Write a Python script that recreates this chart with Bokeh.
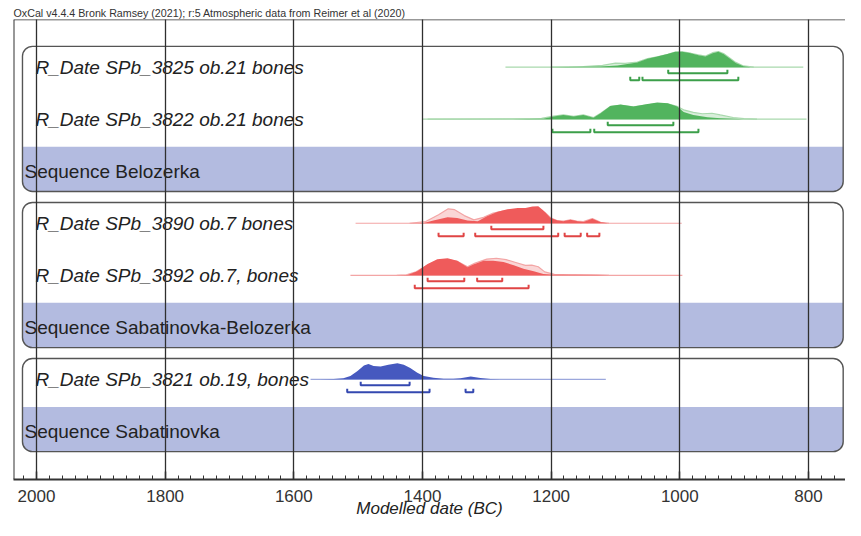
from bokeh.plotting import figure
from bokeh.models import Range1d, FixedTicker, Span
from bokeh.embed import file_html
from bokeh.resources import INLINE
from bokeh.core.properties import value

# ---------------- data ----------------
title_text = "OxCal v4.4.4 Bronk Ramsey (2021); r:5 Atmospheric data from Reimer et al (2020)"
axis_title = "Modelled date (BC)"
tick_years = [2000, 1800, 1600, 1400, 1200, 1000, 800]

sequence_names = ["Sequence Belozerka", "Sequence Sabatinovka-Belozerka", "Sequence Sabatinovka"]
sequence_members = [
    ["R_Date SPb_3825 ob.21 bones", "R_Date SPb_3822 ob.21 bones"],
    ["R_Date SPb_3890 ob.7 bones", "R_Date SPb_3892 ob.7, bones"],
    ["R_Date SPb_3821 ob.19, bones"],
]

# SPb_3825
s3825_span = [1271, 808]
s3825_years = [1200, 1150, 1123, 1097, 1066, 1050, 1035, 1019, 1007, 996, 983, 971, 960, 949, 940, 932, 924, 913, 901, 890]
s3825_post = [0.0, 0.02, 0.04, 0.1, 0.27, 0.5, 0.62, 0.78, 0.9, 0.9, 0.82, 0.7, 0.62, 0.82, 0.9, 0.78, 0.55, 0.24, 0.05, 0.0]
s3825_like_years = [1200, 1150, 1120, 1100, 1085, 1066, 1050, 1035, 1019, 1007, 996, 983, 971, 960, 949, 940, 932, 924, 913, 901, 885]
s3825_like = [0.0, 0.04, 0.1, 0.24, 0.22, 0.3, 0.5, 0.6, 0.75, 0.88, 0.9, 0.82, 0.72, 0.65, 0.85, 0.92, 0.8, 0.58, 0.28, 0.07, 0.0]
s3825_r68 = [[1018, 926]]
s3825_r95 = [[1077, 1063], [1058, 909]]

# SPb_3822
s3822_span = [1392, 803]
s3822_years = [1260, 1212, 1196, 1181, 1165, 1150, 1134, 1123, 1108, 1092, 1072, 1050, 1035, 1019, 1004, 994, 979, 957, 937, 917, 901]
s3822_post = [0.0, 0.02, 0.16, 0.24, 0.16, 0.24, 0.08, 0.35, 0.78, 0.86, 0.75, 0.9, 0.98, 0.94, 0.75, 0.43, 0.24, 0.12, 0.06, 0.02, 0.0]
s3822_like_years = [1400, 1260, 1215, 1196, 1181, 1165, 1150, 1134, 1123, 1108, 1092, 1072, 1050, 1035, 1019, 1004, 994, 979, 965, 950, 937, 917, 900, 880]
s3822_like = [0.0, 0.02, 0.05, 0.18, 0.25, 0.17, 0.25, 0.1, 0.35, 0.75, 0.82, 0.72, 0.85, 0.92, 0.9, 0.75, 0.55, 0.4, 0.32, 0.35, 0.25, 0.1, 0.03, 0.0]
s3822_r68 = [[1112, 1010]]
s3822_r95 = [[1198, 1139], [1133, 971]]

# SPb_3890
s3890_span = [1504, 997]
s3890_years = [1420, 1398, 1383, 1361, 1346, 1330, 1314, 1299, 1283, 1268, 1252, 1240, 1229, 1220, 1212, 1201, 1190, 1181, 1170, 1159, 1150, 1136, 1123, 1112]
s3890_post = [0.0, 0.02, 0.16, 0.35, 0.31, 0.16, 0.12, 0.43, 0.67, 0.82, 0.9, 0.9, 0.98, 1.0, 0.75, 0.31, 0.16, 0.12, 0.2, 0.12, 0.08, 0.27, 0.06, 0.0]
s3890_like_years = [1420, 1395, 1375, 1360, 1350, 1335, 1320, 1305, 1290, 1275, 1255, 1235, 1222, 1210, 1200, 1190, 1181, 1170, 1160, 1150, 1136, 1123, 1110]
s3890_like = [0.0, 0.1, 0.5, 0.85, 0.8, 0.45, 0.2, 0.35, 0.6, 0.72, 0.78, 0.82, 0.85, 0.65, 0.3, 0.15, 0.12, 0.2, 0.12, 0.1, 0.27, 0.06, 0.0]
s3890_r68 = [[1293, 1212]]
s3890_r95 = [[1375, 1336], [1318, 1189], [1179, 1154], [1144, 1125]]

# SPb_3892
s3892_span = [1512, 996]
s3892_years = [1440, 1423, 1408, 1392, 1377, 1361, 1346, 1330, 1321, 1305, 1290, 1274, 1258, 1243, 1227, 1212, 1196, 1165, 1128, 1110]
s3892_post = [0.0, 0.02, 0.24, 0.67, 0.94, 1.0, 0.86, 0.47, 0.63, 0.86, 0.86, 0.78, 0.59, 0.39, 0.24, 0.08, 0.03, 0.03, 0.02, 0.0]
s3892_like_years = [1440, 1425, 1410, 1392, 1377, 1361, 1346, 1330, 1318, 1300, 1285, 1270, 1255, 1240, 1230, 1220, 1210, 1195, 1170, 1130, 1110]
s3892_like = [0.0, 0.02, 0.2, 0.6, 0.85, 0.92, 0.82, 0.5, 0.72, 0.95, 1.0, 0.92, 0.75, 0.58, 0.6, 0.5, 0.2, 0.05, 0.03, 0.02, 0.0]
s3892_r68 = [[1392, 1335], [1315, 1276]]
s3892_r95 = [[1412, 1235]]

# SPb_3821
s3821_span = [1574, 1115]
s3821_years = [1560, 1538, 1523, 1512, 1501, 1491, 1484, 1476, 1465, 1453, 1439, 1429, 1419, 1408, 1398, 1383, 1367, 1352, 1341, 1325, 1310, 1294, 1279]
s3821_post = [0.0, 0.02, 0.06, 0.2, 0.49, 0.82, 0.9, 0.78, 0.75, 0.86, 0.94, 0.86, 0.67, 0.39, 0.2, 0.1, 0.04, 0.03, 0.06, 0.16, 0.08, 0.02, 0.0]
s3821_r68 = [[1496, 1420]]
s3821_r95 = [[1517, 1389], [1333, 1321]]

dates = [
    (s3825_span, s3825_years, s3825_post, s3825_like_years, s3825_like, s3825_r68, s3825_r95),
    (s3822_span, s3822_years, s3822_post, s3822_like_years, s3822_like, s3822_r68, s3822_r95),
    (s3890_span, s3890_years, s3890_post, s3890_like_years, s3890_like, s3890_r68, s3890_r95),
    (s3892_span, s3892_years, s3892_post, s3892_like_years, s3892_like, s3892_r68, s3892_r95),
    (s3821_span, s3821_years, s3821_post, None, None, s3821_r68, s3821_r95),
]

# ---------------- styles ----------------
group_colors = [
    dict(post="#52b45e", light="#a9d9ad", br="#3c9f4a"),
    dict(post="#ef5b5b", light="#f3a5a5", br="#e04545"),
    dict(post="#4659bf", light="#9ba7dc", br="#3448b0"),
]
BAND = "#b3bbe0"
BOX_LINE = "#555555"
GRID = "#2f2f2f"
TEXT = "#222222"
FONT = "Liberation Sans"

X_LEFT, X_RIGHT = 2035.75, 742.4
Y_TOP, Y_BOTTOM = 0.916, -7.925
PX_PER_UNIT = 52.0
H = 17 / PX_PER_UNIT
OFF68 = 6 / PX_PER_UNIT
OFF95 = 13 / PX_PER_UNIT
TICK = 3.5 / PX_PER_UNIT
BOX_L, BOX_R = 2021.8, 746

p = figure(width=845, height=520, x_range=Range1d(X_LEFT, X_RIGHT), y_range=Range1d(Y_BOTTOM, Y_TOP),
           output_backend="svg", toolbar_location=None, y_axis_location=None,
           min_border_left=13, min_border_right=0, min_border_top=19, min_border_bottom=41)
p.outline_line_color = None
p.background_fill_color = "white"
p.ygrid.visible = False
p.xgrid.ticker = FixedTicker(ticks=tick_years)
p.xgrid.grid_line_color = GRID
p.xgrid.grid_line_width = 1.3
p.xgrid.level = "overlay"

p.title.text = title_text
p.title.text_font = FONT
p.title.text_font_size = "10.7px"
p.title.text_font_style = "normal"
p.title.text_color = "#333333"
p.title.align = "left"
p.title.standoff = 2

ax = p.xaxis[0]
ax.ticker = FixedTicker(ticks=tick_years, minor_ticks=list(range(740, 2041, 20)))
ax.major_tick_in = 8
ax.major_tick_out = 0
ax.minor_tick_in = 4
ax.minor_tick_out = 0
ax.axis_line_width = 2
ax.axis_line_color = "#333333"
ax.major_tick_line_color = "#333333"
ax.minor_tick_line_color = "#333333"
ax.major_tick_line_width = 1.5
ax.major_label_text_font = FONT
ax.major_label_text_font_size = "17px"
ax.major_label_text_color = "#333333"
ax.major_label_standoff = 10
ax.axis_label = axis_title
ax.axis_label_text_font = FONT
ax.axis_label_text_font_size = "17px"
ax.axis_label_text_font_style = "italic"
ax.axis_label_text_color = TEXT
ax.axis_label_standoff = -6

p.add_layout(Span(location=Y_TOP, dimension="width", line_color="#333333", line_width=1.5))
p.add_layout(Span(location=X_LEFT, dimension="height", line_color="#333333", line_width=2))

# rows
row = 0
date_idx = 0
for g, (seq, members) in enumerate(zip(sequence_names, sequence_members)):
    c = group_colors[g]
    first = row
    last = row + len(members)
    top = -first + 0.40
    bottom = -last - 0.39
    p.quad(left=[BOX_L], right=[BOX_R], top=[top], bottom=[bottom], fill_color="white",
           line_color=None, border_radius=10)
    p.quad(left=[BOX_L], right=[BOX_R], top=[-last + 0.47], bottom=[bottom], fill_color=BAND,
           line_color=None, border_radius=dict(top_left=0, top_right=0, bottom_right=10, bottom_left=10))
    p.quad(left=[BOX_L], right=[BOX_R], top=[top], bottom=[bottom], fill_color=None,
           line_color=BOX_LINE, line_width=1.4, border_radius=10)
    for name in members:
        span, yrs, post, lyrs, like, r68, r95 = dates[date_idx]
        base = -row
        p.line(x=span, y=[base, base], line_color=c["light"], line_width=1.2)
        if like is not None:
            p.varea(x=lyrs, y1=[base] * len(lyrs), y2=[base + H * v for v in like],
                    fill_color=c["light"], fill_alpha=0.45)
            p.line(x=lyrs, y=[base + H * v for v in like], line_color=c["light"], line_width=1.2)
        p.varea(x=yrs, y1=[base] * len(yrs), y2=[base + H * v for v in post], fill_color=c["post"])
        xs, ys = [], []
        for rng, off in ((r68, OFF68), (r95, OFF95)):
            yb = base - off
            for a, b in rng:
                xs.append([a, a, b, b])
                ys.append([yb + TICK, yb, yb, yb + TICK])
        p.multi_line(xs=xs, ys=ys, line_color=c["br"], line_width=2)
        p.text(x=[2001.6], y=[base], text=[name], text_font=value(FONT), text_font_style="italic",
               text_font_size="19px", text_color=TEXT, text_baseline="middle", text_align="left")
        row += 1
        date_idx += 1
    p.text(x=[2018.7], y=[-row], text=[seq], text_font=value(FONT), text_font_size="19px",
           text_color=TEXT, text_baseline="middle", text_align="left")
    row += 1

open("out.html", "w").write(file_html(p, INLINE))
